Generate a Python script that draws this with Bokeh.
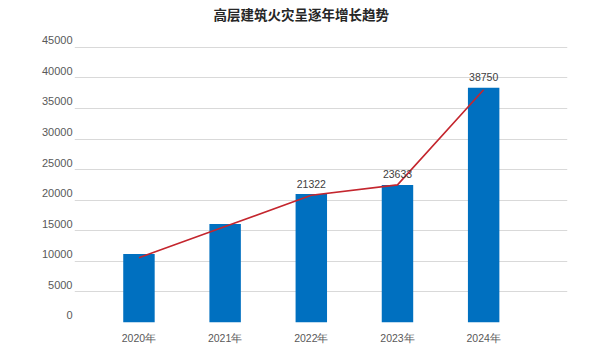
from bokeh.plotting import figure
from bokeh.models import Range1d, FixedTicker, ColumnDataSource, LabelSet, Title
from bokeh.embed import file_html
from bokeh.resources import INLINE
from bokeh.core.properties import value

# ---- data ----
title_text = "高层建筑火灾呈逐年增长趋势"
years = ["2020年", "2021年", "2022年", "2023年", "2024年"]
bar_values = [11200, 16100, 21000, 22500, 38400]
line_values = [10600, 15700, 20800, 22500, 38050]
label_texts = ["", "", "21322", "23633", "38750"]
y_ticks = [0, 5000, 10000, 15000, 20000, 25000, 30000, 35000, 40000, 45000]

# ---- layout / style ----
W, H = 600, 360
BORDER_L, BORDER_R, BORDER_T, BORDER_B = 74, 33, 38, 38
Y_END = 46440
FRAME_H = H - BORDER_T - BORDER_B
LABEL_LIFT = round(7 * Y_END / FRAME_H)  # tick labels sit slightly above their gridlines

BAR_COLOR = "#0070C0"
LINE_COLOR = "#C4262E"
GRID_COLOR = "#D9D9D9"
TEXT_COLOR = "#595959"

x = list(range(len(years)))
src = ColumnDataSource(dict(x=x, top=bar_values, line=line_values, label=label_texts))

p = figure(width=W, height=H, output_backend="svg", toolbar_location=None,
           x_range=Range1d(-0.748, 4.973), y_range=Range1d(0, Y_END),
           min_border_left=BORDER_L, min_border_right=BORDER_R,
           min_border_top=BORDER_T, min_border_bottom=BORDER_B)
p.outline_line_color = None
p.background_fill_color = "white"
p.border_fill_color = "white"

p.title.text = title_text
p.title.align = "left"
p.title.vertical_align = "top"
p.title.offset = 139
p.title.standoff = 7
p.title.text_font = "Noto Sans CJK SC"
p.title.text_font_size = "13.5px"
p.title.text_font_style = "bold"
p.title.text_color = "#262626"

# blank spacer between title and plot area
p.add_layout(Title(text=" ", text_font_size="1px", standoff=6), "above")

p.vbar(x="x", top="top", width=0.365, source=src, fill_color=BAR_COLOR, line_color=None)
p.line(x="x", y="line", source=src, line_color=LINE_COLOR, line_width=1.6)

labels = LabelSet(x="x", y="top", text="label", source=src, y_offset=10.5,
                  text_align="center", text_baseline="middle",
                  text_font=value("Liberation Sans"), text_font_size="10.5px",
                  text_color="#404040")
p.add_layout(labels)

# x axis
p.xaxis.ticker = FixedTicker(ticks=x)
p.xaxis.major_label_overrides = {i: years[i] for i in x}
p.xaxis.axis_line_color = None
p.xaxis.major_tick_line_color = None
p.xaxis.minor_tick_line_color = None
p.xaxis.major_tick_out = 0
p.xaxis.major_tick_in = 0
p.xaxis.minor_tick_out = 0
p.xaxis.major_label_standoff = 9
p.xaxis.major_label_text_font = "Liberation Sans"
p.xaxis.major_label_text_font_size = "10.5px"
p.xaxis.major_label_text_color = TEXT_COLOR
p.xgrid.grid_line_color = None

# y axis
p.yaxis.ticker = FixedTicker(ticks=[t + LABEL_LIFT for t in y_ticks])
p.yaxis.major_label_overrides = {t + LABEL_LIFT: str(t) for t in y_ticks}
p.yaxis.axis_line_color = None
p.yaxis.major_tick_line_color = None
p.yaxis.minor_tick_line_color = None
p.yaxis.major_tick_out = 0
p.yaxis.major_tick_in = 0
p.yaxis.minor_tick_out = 0
p.yaxis.major_label_standoff = 2
p.yaxis.major_label_text_font = "Liberation Sans"
p.yaxis.major_label_text_font_size = "11px"
p.yaxis.major_label_text_color = TEXT_COLOR
p.ygrid.ticker = FixedTicker(ticks=y_ticks)
p.ygrid.grid_line_color = GRID_COLOR
p.ygrid.grid_line_width = 1

open("out.html", "w").write(file_html(p, INLINE))
